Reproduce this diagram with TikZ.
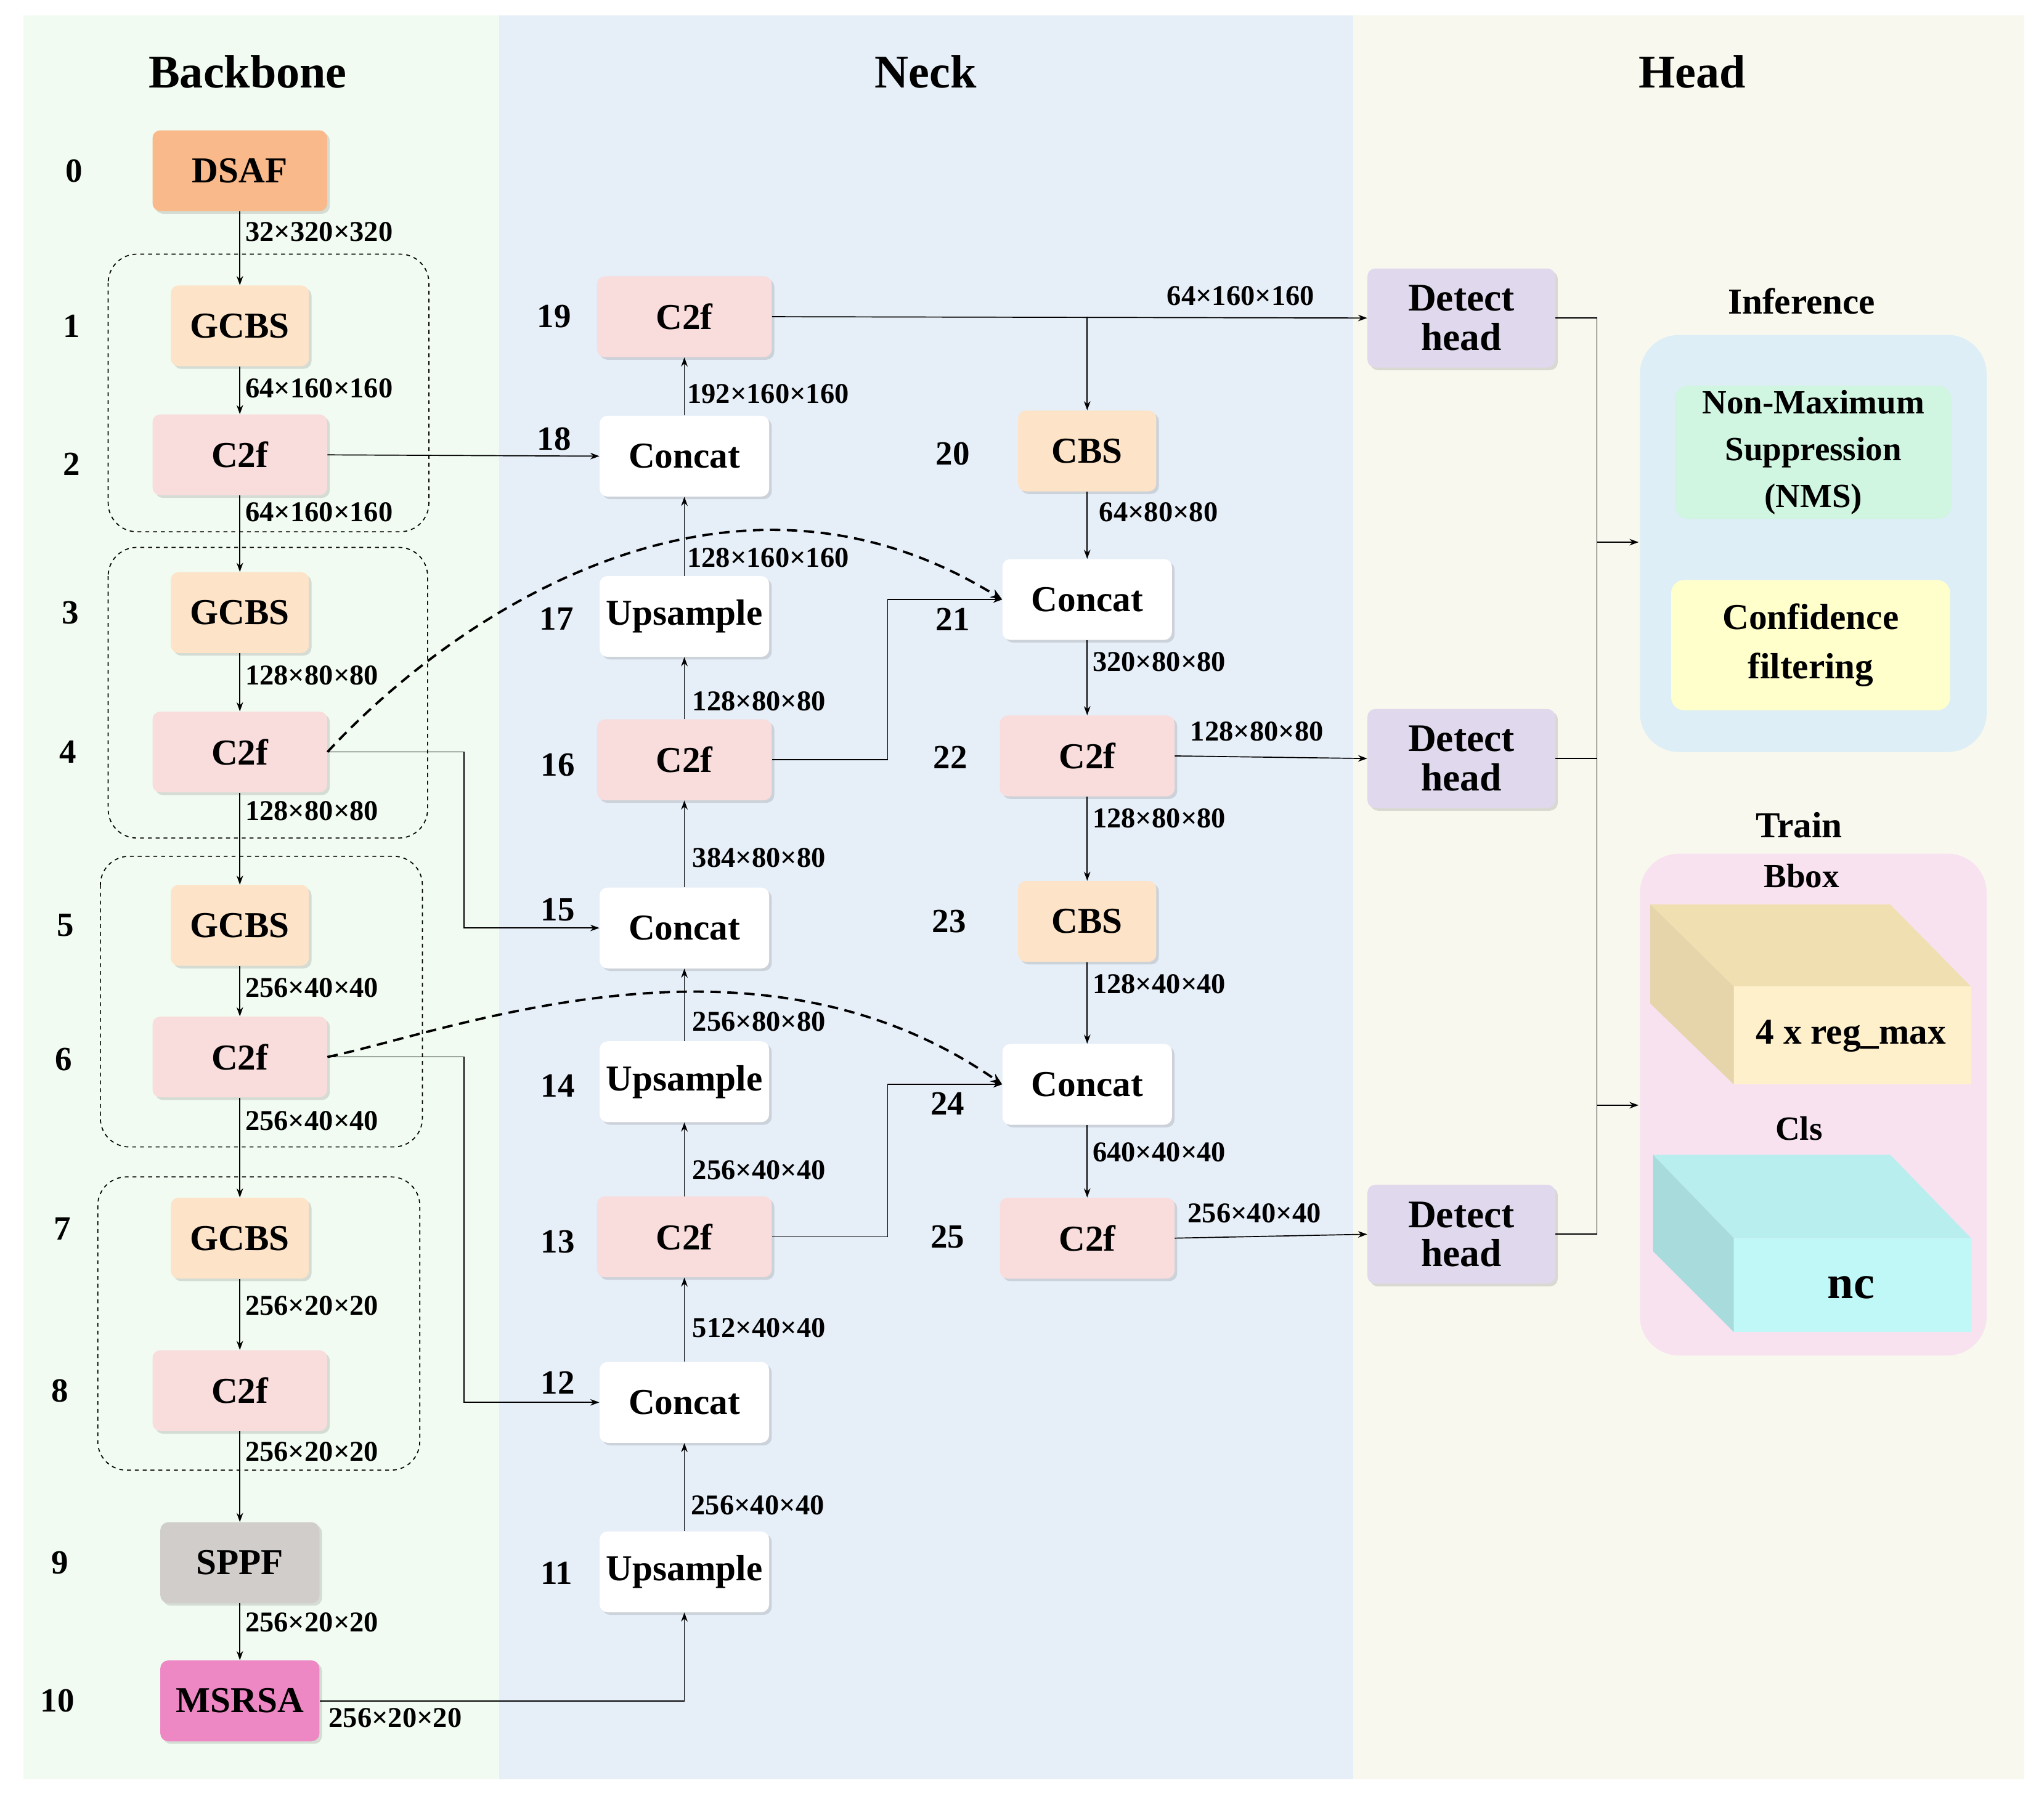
\documentclass[tikz,border=0pt]{standalone}
\usepackage{fontspec}
\setmainfont{Liberation Serif}
\usetikzlibrary{shadows,arrows.meta}
\definecolor{bbg}{HTML}{F1FBF1}
\definecolor{nbg}{HTML}{E6EEF8}
\definecolor{hbg}{HTML}{F8F8EE}
\definecolor{dsaf}{HTML}{F9B98A}
\definecolor{gcbs}{HTML}{FDE3C8}
\definecolor{c2f}{HTML}{F9DCDC}
\definecolor{sppf}{HTML}{D0CDCB}
\definecolor{msrsa}{HTML}{EE88C4}
\definecolor{det}{HTML}{E0D8EC}
\definecolor{infbg}{RGB}{221,238,246}
\definecolor{nmsc}{RGB}{208,245,224}
\definecolor{cfc}{RGB}{255,255,204}
\definecolor{trbg}{RGB}{248,226,240}
\definecolor{bt}{RGB}{240,223,176}
\definecolor{bl}{RGB}{230,212,170}
\definecolor{bf}{RGB}{255,240,204}
\definecolor{ct}{RGB}{184,238,238}
\definecolor{cl}{RGB}{168,220,220}
\definecolor{cf}{RGB}{192,248,248}
\begin{document}
\begin{tikzpicture}[x=1pt,y=-1pt,
 blk/.style={rounded corners=6pt,minimum height=62pt,font=\fontsize{28}{30}\selectfont\bfseries,inner sep=2pt,drop shadow={opacity=0.25,shadow xshift=2pt,shadow yshift=-2pt}},
 wd/.style={blk,fill=white,minimum width=130pt},
 pk/.style={blk,fill=c2f,minimum width=134pt},
 og/.style={blk,fill=gcbs,minimum width=106pt},
 lab/.style={font=\fontsize{22}{24}\selectfont\bfseries,anchor=west,inner sep=0pt},
 idx/.style={font=\fontsize{26}{28}\selectfont\bfseries,inner sep=0pt},
 ttl/.style={font=\fontsize{36}{38}\selectfont\bfseries},
 ar/.style={-{Stealth[length=7pt,width=5pt]},line width=0.8pt},
 dsh/.style={-{Stealth[length=9pt,width=7pt]},line width=1.8pt,dash pattern=on 8pt off 5pt},
 grp/.style={dashed,rounded corners=22pt,line width=0.8pt}]
\useasboundingbox (0,0) rectangle (1568,1380);
\fill[white] (0,0) rectangle (1568,1380);
\fill[bbg] (18,12) rectangle (383,1365);
\fill[nbg] (383,12) rectangle (1038,1365);
\fill[hbg] (1038,12) rectangle (1553,1365);
\node[ttl] at (190,55) {Backbone};
\node[ttl] at (710,55) {Neck};
\node[ttl] at (1298,55) {Head};
% groups
\draw[grp] (83,195) rectangle (329,408);
\draw[grp] (83,420) rectangle (328,643);
\draw[grp] (77,657) rectangle (324,880);
\draw[grp] (75,903) rectangle (322,1128);
% backbone
\node[blk,fill=dsaf,minimum width=134pt] (n0) at (184,131) {DSAF};
\node[og] (n1) at (184,250) {GCBS};
\node[pk] (n2) at (184,349) {C2f};
\node[og] (n3) at (184,470) {GCBS};
\node[pk] (n4) at (184,577) {C2f};
\node[og] (n5) at (184,710) {GCBS};
\node[pk] (n6) at (184,811) {C2f};
\node[og] (n7) at (184,950) {GCBS};
\node[pk] (n8) at (184,1067) {C2f};
\node[blk,fill=sppf,minimum width=122pt] (n9) at (184,1199) {SPPF};
\node[blk,fill=msrsa,minimum width=122pt] (n10) at (184,1305) {MSRSA};
\foreach \t/\x/\y in {0/57/131,1/55/250,2/55/356,3/54/470,4/52/577,5/50/710,6/49/813,7/48/943,8/46/1067,9/46/1199,10/44/1305,
 19/425/243,18/425/337,17/427/475,16/428/587,15/428/698,14/428/833,13/428/953,12/428/1061,11/427/1207,
 20/731/348,21/731/475,22/729/581,23/728/707,24/727/847,25/727/949}
 \node[idx] at (\x,\y) {\t};
% neck col 1
\node[pk] (n19) at (525,243) {C2f};
\node[wd] (n18) at (525,350) {Concat};
\node[wd] (n17) at (525,473) {Upsample};
\node[pk] (n16) at (525,583) {C2f};
\node[wd] (n15) at (525,712) {Concat};
\node[wd] (n14) at (525,830) {Upsample};
\node[pk] (n13) at (525,949) {C2f};
\node[wd] (n12) at (525,1076) {Concat};
\node[wd] (n11) at (525,1206) {Upsample};
% neck col 2
\node[og] (n20) at (834,346) {CBS};
\node[wd] (n21) at (834,460) {Concat};
\node[pk] (n22) at (834,580) {C2f};
\node[og] (n23) at (834,707) {CBS};
\node[wd] (n24) at (834,832) {Concat};
\node[pk] (n25) at (834,950) {C2f};
% detect heads
\node[blk,fill=det,minimum width=144pt,minimum height=76pt,align=center,font=\fontsize{30}{30}\selectfont\bfseries] (d1) at (1121,244) {Detect\\head};
\node[blk,fill=det,minimum width=144pt,minimum height=76pt,align=center,font=\fontsize{30}{30}\selectfont\bfseries] (d2) at (1121,582) {Detect\\head};
\node[blk,fill=det,minimum width=144pt,minimum height=76pt,align=center,font=\fontsize{30}{30}\selectfont\bfseries] (d3) at (1121,947) {Detect\\head};
% backbone arrows
\foreach \a/\b in {n0/n1,n1/n2,n2/n3,n3/n4,n4/n5,n5/n6,n6/n7,n7/n8,n8/n9,n9/n10}
 \draw[ar] (\a) -- (\b);
\foreach \t/\y in {32×320×320/178,64×160×160/298,64×160×160/393,128×80×80/518,128×80×80/622,256×40×40/758,256×40×40/860,256×20×20/1002,256×20×20/1114,256×20×20/1245}
 \node[lab] at (188,\y) {\t};
\node[lab] at (252,1318) {256×20×20};
% neck arrows
\foreach \a/\b in {n11/n12,n12/n13,n13/n14,n14/n15,n15/n16,n16/n17,n17/n18,n18/n19,n20/n21,n21/n22,n22/n23,n23/n24,n24/n25}
 \draw[ar] (\a) -- (\b);
\draw[ar] (n2.east) -- (n18.west);
\draw[ar] (n4.east) -- (356,577) -- (356,712) -- (n15.west);
\draw[ar] (n6.east) -- (356,811) -- (356,1076) -- (n12.west);
\draw[ar] (n10.east) -- (525,1305) -- (n11.south);
\coordinate (br) at (834,243);
\draw[ar] (n19.east) -- (d1.west);
\draw[ar] (br) -- (n20.north);
\draw[ar] (n16.east) -- (681,583) -- (681,460) -- (n21.west);
\draw[ar] (n13.east) -- (681,949) -- (681,832) -- (n24.west);
\draw[ar] (n22.east) -- (d2.west);
\draw[ar] (n25.east) -- (d3.west);
\draw[dsh] (n4.east) .. controls (350,470) and (560,330) .. (n21.west);
\draw[dsh] (n6.east) .. controls (350,790) and (580,700) .. (n24.west);
\foreach \t/\x/\y in {192×160×160/527/302,128×160×160/527/428,128×80×80/531/538,384×80×80/531/658,256×80×80/531/784,256×40×40/531/898,512×40×40/531/1019,256×40×40/530/1155,
 64×80×80/843/393,320×80×80/838/508,128×80×80/838/628,128×40×40/838/755,640×40×40/838/884,
 64×160×160/895/227,128×80×80/913/561,256×40×40/911/931}
 \node[lab] at (\x,\y) {\t};
% head outputs
\coordinate (j1) at (1225,244);
\coordinate (j3) at (1225,947);
\coordinate (a1) at (1225,416);
\coordinate (a2) at (1225,848);
\coordinate (t1) at (1257,416);
\coordinate (t2) at (1257,848);
\draw[line width=0.8pt] (d1.east) -- (j1) -- (j3) -- (d3.east);
\draw[line width=0.8pt] (d2.east) -- (1225,582);
\draw[ar] (a1) -- (t1);
\draw[ar] (a2) -- (t2);
% inference
\fill[infbg,rounded corners=30pt] (1258,257) rectangle (1524,577);
\node[font=\fontsize{28}{30}\selectfont\bfseries] (inf) at (1382,231) {Inference};
\node[fill=nmsc,rounded corners=10pt,minimum width=212pt,minimum height=98pt,align=center,font=\fontsize{26}{36}\selectfont\bfseries] (nms) at (1391,347) {Non-Maximum\\Suppression\\(NMS)};
\node[fill=cfc,rounded corners=10pt,minimum width=214pt,minimum height=100pt,align=center,font=\fontsize{28}{38}\selectfont\bfseries] (cfn) at (1389,495) {Confidence\\filtering};
% train
\fill[trbg,rounded corners=30pt] (1258,655) rectangle (1524,1040);
\node[font=\fontsize{28}{30}\selectfont\bfseries] (tr) at (1380,633) {Train};
\node[font=\fontsize{26}{28}\selectfont\bfseries] (bb) at (1382,672) {Bbox};
\fill[bt] (1266,694) -- (1450,694) -- (1512,757) -- (1330,757) -- cycle;
\fill[bl] (1266,694) -- (1330,757) -- (1330,832) -- (1266,770) -- cycle;
\fill[bf] (1330,757) rectangle (1512,832);
\node[font=\fontsize{28}{30}\selectfont\bfseries] (rm) at (1420,795) {4 x reg\_max};
\node[font=\fontsize{26}{28}\selectfont\bfseries] (cls) at (1380,866) {Cls};
\fill[ct] (1268,886) -- (1450,886) -- (1512,950) -- (1330,950) -- cycle;
\fill[cl] (1268,886) -- (1330,950) -- (1330,1022) -- (1268,960) -- cycle;
\fill[cf] (1330,950) rectangle (1512,1022);
\node[font=\fontsize{36}{38}\selectfont\bfseries] (nc) at (1420,988) {nc};
\end{tikzpicture}
\end{document}
